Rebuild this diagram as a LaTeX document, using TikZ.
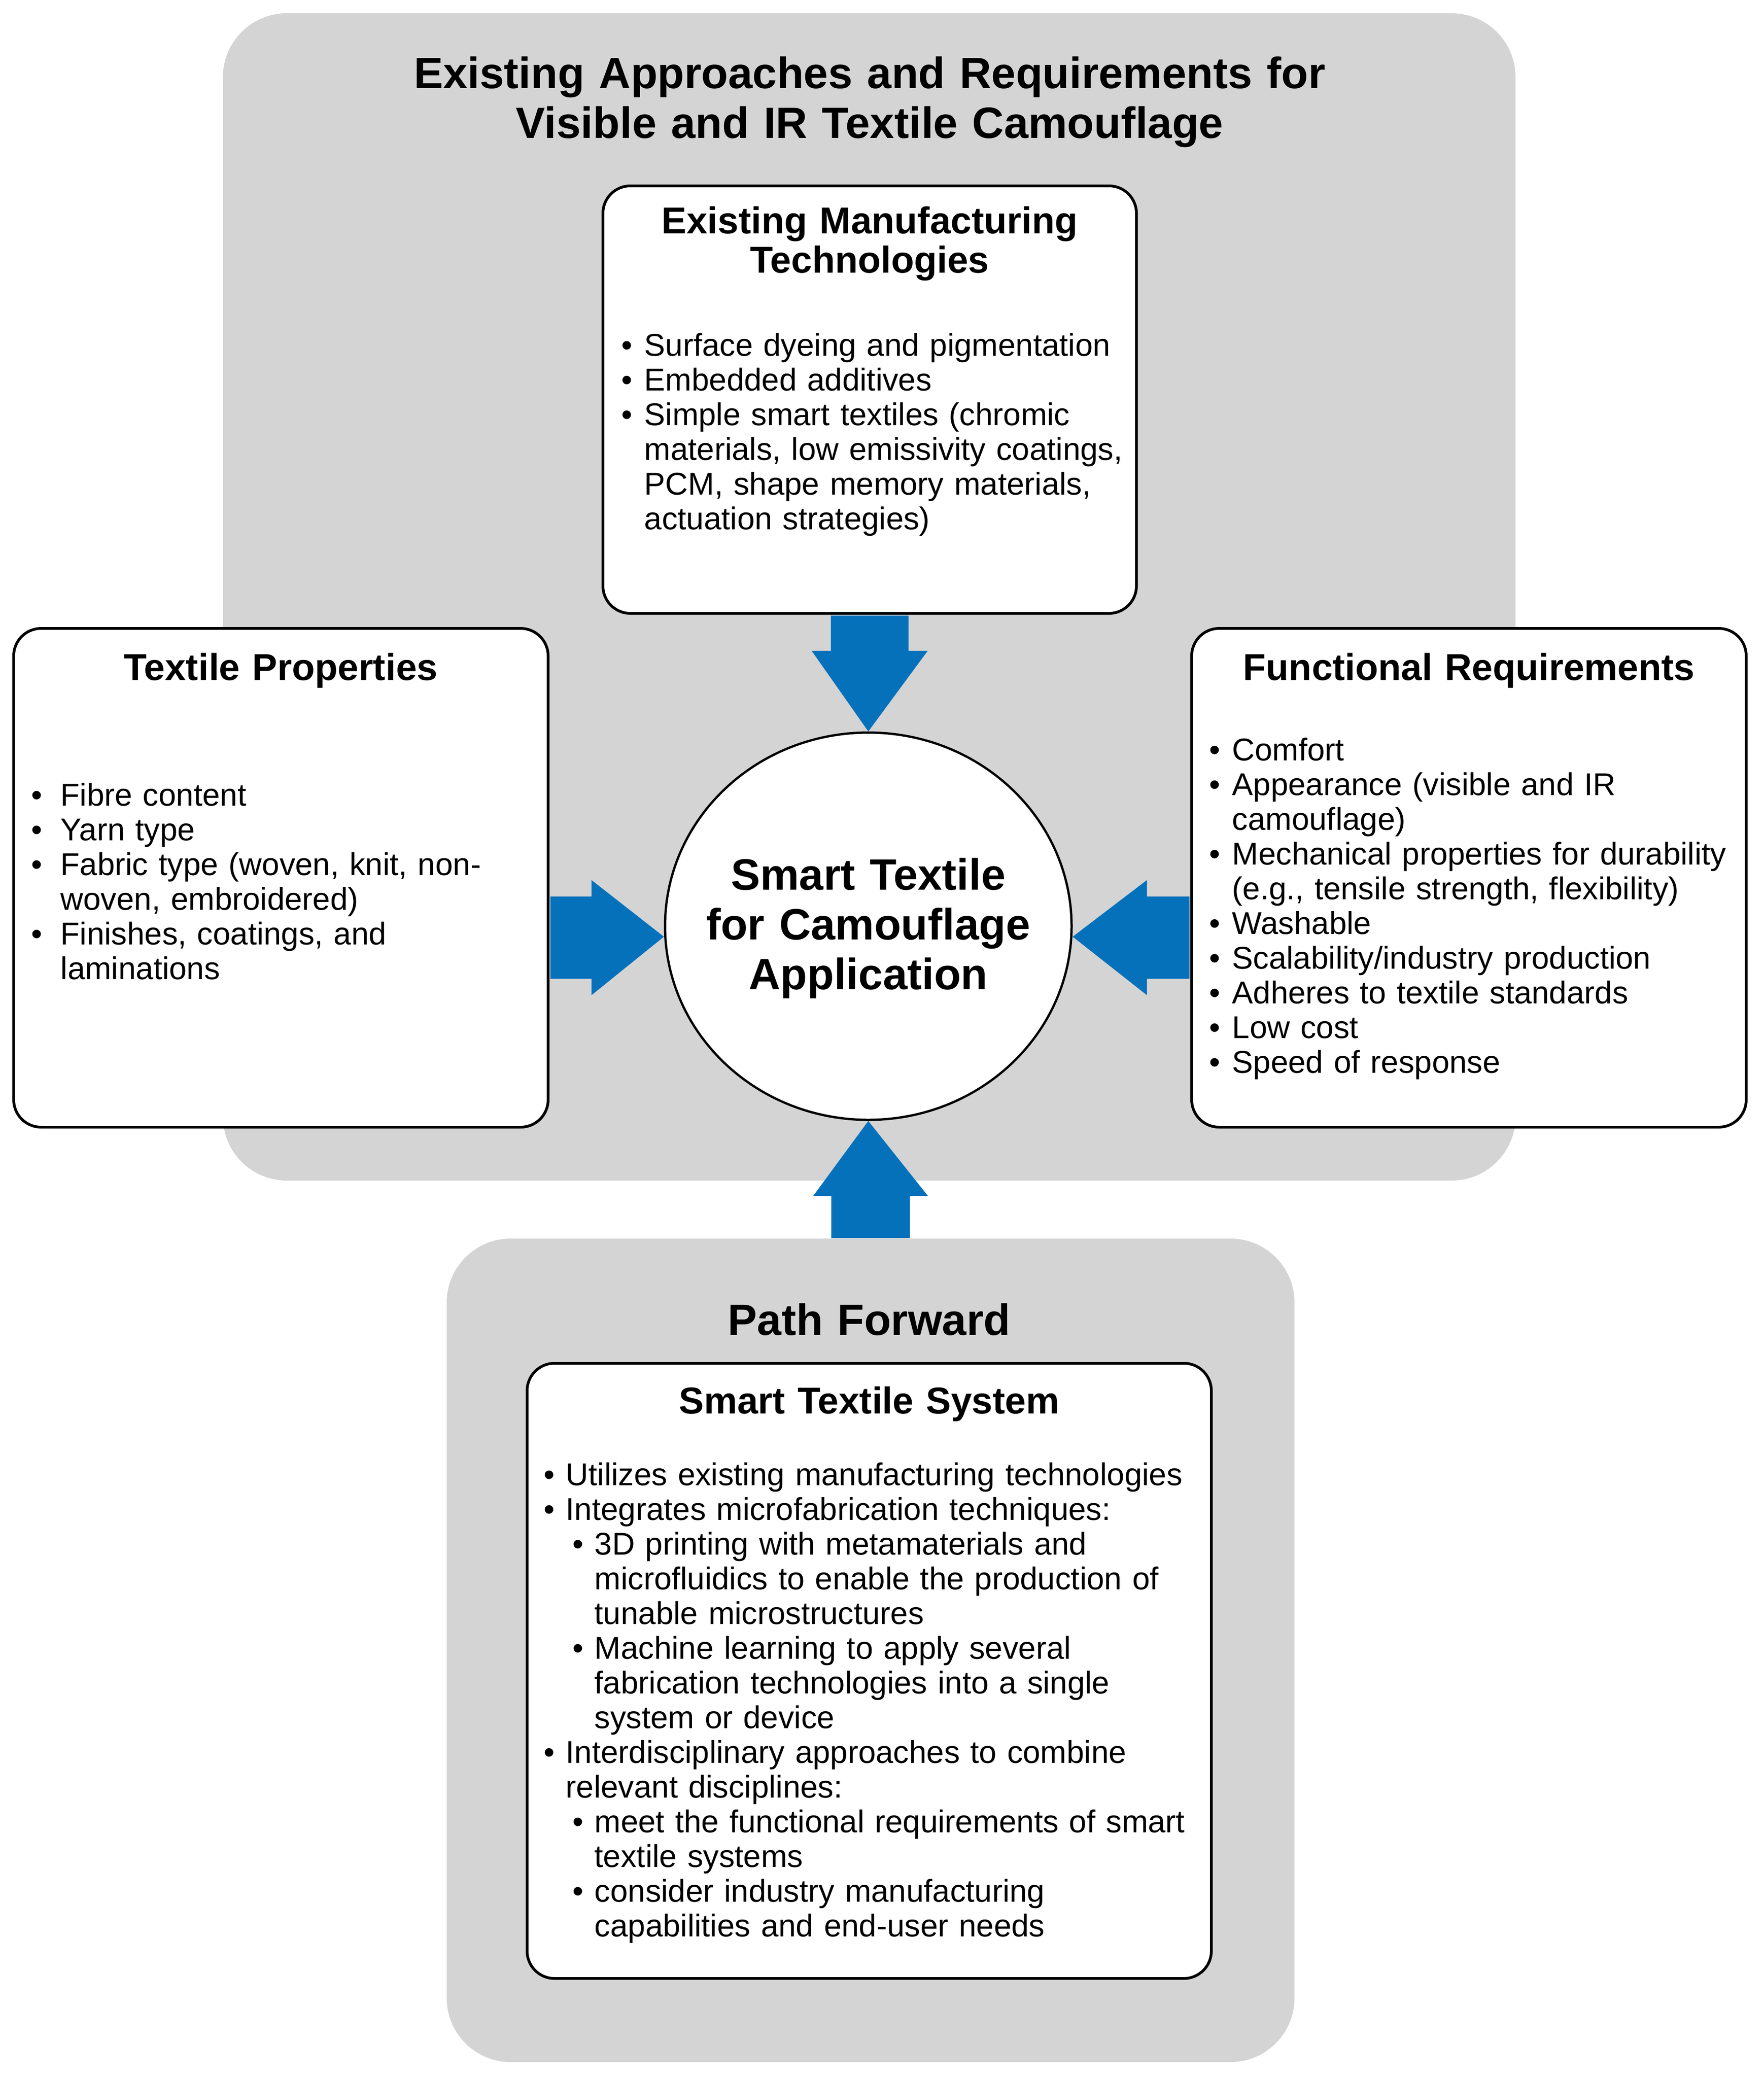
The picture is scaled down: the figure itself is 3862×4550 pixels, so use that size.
\documentclass[tikz,border=0pt]{standalone}
\usepackage{fontspec}
\setmainfont{Liberation Sans}
\usetikzlibrary{shapes.geometric,calc}
\definecolor{panelgray}{HTML}{D4D4D4}
\definecolor{arrowblue}{HTML}{0571BB}
\setlength{\parskip}{0pt}
\newcommand\bitem[2][12.5pt]{\par\noindent\llap{\makebox[#1][l]{\textbullet}}#2}
\newcommand\sitem[2][12pt]{\par{\leftskip=15.75pt\noindent\llap{\makebox[#1][l]{\textbullet}}#2\par}}
\tikzset{
  panel/.style={fill=panelgray, draw=none, rounded corners=35pt, inner sep=0pt},
  wbox/.style={draw=black, fill=white, line width=1.5pt, rounded corners=15pt, inner sep=0pt},
  bigtitle/.style={anchor=base, align=center, text width=600pt, inner sep=0pt,
    font=\bfseries\fontsize{24}{27.25}\selectfont},
  boxtitle/.style={anchor=base, align=center, text width=370pt, inner sep=0pt,
    font=\bfseries\fontsize{20.5}{21.5}\selectfont},
  blist/.style={anchor=base west, text width=360pt, inner sep=0pt, align=left,
    font=\fontsize{17.25}{19}\selectfont},
  blockarrow/.style={fill=arrowblue, draw=none},
}
\begin{document}
\begin{tikzpicture}[x=0.25pt,y=-0.25pt]
\useasboundingbox (0,0) rectangle (3862,4550);
% panels
\node[panel, minimum width=707.5pt, minimum height=639pt] (toppanel) at (1903,1307) {};
\node[panel, minimum width=464pt, minimum height=450.75pt] (botpanel) at (1906,3613.5) {};
% boxes
\node[wbox, minimum width=292pt, minimum height=234pt] (tm) at (1904,875) {};
\node[wbox, minimum width=292.5pt, minimum height=273pt] (tp) at (615,1922) {};
\node[wbox, minimum width=303.5pt, minimum height=273pt] (fr) at (3216,1922) {};
\node[wbox, minimum width=374.5pt, minimum height=336.75pt] (sts) at (1903,3658.5) {};
\node[ellipse, draw=black, fill=white, line width=1.25pt, inner sep=0pt,
  minimum width=222.5pt, minimum height=212pt] (circ) at (1901,2028) {};
% block arrows
\fill[blockarrow] ($(tm.south)+(-85,2)$) -- ++(0,77) -- ++(-42,0) -- (circ.north)
  -- ($(tm.south)+(127,79)$) -- ++(-42,0) -- ($(tm.south)+(85,2)$) -- cycle;
\fill[blockarrow] ($(tp.east)+(2,41)$) -- ++(90,0) -- ++(0,-36) -- ($(circ.west)+(0,23)$)
  -- ($(tp.east)+(92,257)$) -- ++(0,-36) -- ($(tp.east)+(2,221)$) -- cycle;
\fill[blockarrow] ($(fr.west)+(-2,41)$) -- ++(-93,0) -- ++(0,-36) -- ($(circ.east)+(0,23)$)
  -- ($(fr.west)+(-95,257)$) -- ++(0,-36) -- ($(fr.west)+(-2,221)$) -- cycle;
\fill[blockarrow] ($(botpanel.north)+(-86,0)$) -- ++(0,-92) -- ++(-40,0) -- (circ.south)
  -- ($(botpanel.north)+(126,-92)$) -- ++(-40,0) -- ($(botpanel.north)+(86,0)$) -- cycle;
% titles
\node[bigtitle] (title) at (1904,193) {Existing Approaches and Requirements for\\Visible and IR Textile Camouflage};
\node[boxtitle] (tmtitle) at (1904,511) {Existing Manufacturing\\Technologies};
\node[boxtitle] (tptitle) at (615,1489) {Textile Properties};
\node[boxtitle] (frtitle) at (3216,1489) {Functional Requirements};
\node[bigtitle] (circtext) at (1901,1948) {Smart Textile\\for Camouflage\\Application};
\node[bigtitle] (pftitle) at (1903,2923) {Path Forward};
\node[boxtitle] (ststitle) at (1903,3095) {Smart Textile System};
% lists (the leading \par adds one empty line of 76 units, hence the offsets)
\node[blist] (tmlist) at (1410,703) {%
\bitem{Surface dyeing and pigmentation}
\bitem{Embedded additives}
\bitem{Simple smart textiles (chromic\\materials, low emissivity coatings,\\PCM, shape memory materials,\\actuation strategies)}};
\node[blist] (tplist) at (132,1688) {%
\bitem[16pt]{Fibre content}
\bitem[16pt]{Yarn type}
\bitem[16pt]{Fabric type (woven, knit, non-\\woven, embroidered)}
\bitem[16pt]{Finishes, coatings, and\\laminations}};
\node[blist] (frlist) at (2697,1589) {%
\bitem{Comfort}
\bitem{Appearance (visible and IR\\camouflage)}
\bitem{Mechanical properties for durability\\(e.g., tensile strength, flexibility)}
\bitem{Washable}
\bitem{Scalability/industry production}
\bitem{Adheres to textile standards}
\bitem{Low cost}
\bitem{Speed of response}};
\node[blist] (stslist) at (1238,3176) {%
\bitem[12pt]{Utilizes existing manufacturing technologies}
\bitem[12pt]{Integrates microfabrication techniques:}
\sitem{3D printing with metamaterials and\\microfluidics to enable the production of\\tunable microstructures}
\sitem{Machine learning to apply several\\fabrication technologies into a single\\system or device}
\bitem[12pt]{Interdisciplinary approaches to combine\\relevant disciplines:}
\sitem{meet the functional requirements of smart\\textile systems}
\sitem{consider industry manufacturing\\capabilities and end-user needs}};
\end{tikzpicture}
\end{document}
